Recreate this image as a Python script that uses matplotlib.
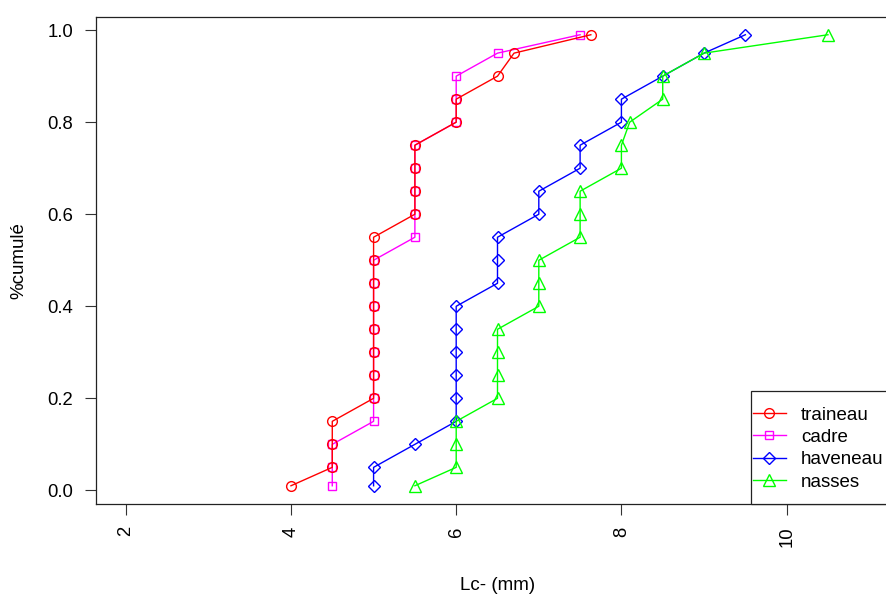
import matplotlib
matplotlib.use("Agg")
import matplotlib.pyplot as plt
from matplotlib.patches import Rectangle

plt.rcParams['font.family'] = ['Liberation Sans', 'DejaVu Sans']

# cumulative proportions (shared by all series)
pct = [0.01, 0.05, 0.10, 0.15, 0.20, 0.25, 0.30, 0.35, 0.40, 0.45, 0.50,
       0.55, 0.60, 0.65, 0.70, 0.75, 0.80, 0.85, 0.90, 0.95, 0.99]

traineau = [4.0, 4.5, 4.5, 4.5, 5.0, 5.0, 5.0, 5.0, 5.0, 5.0, 5.0,
            5.0, 5.5, 5.5, 5.5, 5.5, 6.0, 6.0, 6.5, 6.7, 7.63]
cadre = [4.5, 4.5, 4.5, 5.0, 5.0, 5.0, 5.0, 5.0, 5.0, 5.0, 5.0,
         5.5, 5.5, 5.5, 5.5, 5.5, 6.0, 6.0, 6.0, 6.5, 7.5]
haveneau = [5.0, 5.0, 5.5, 6.0, 6.0, 6.0, 6.0, 6.0, 6.0, 6.5, 6.5,
            6.5, 7.0, 7.0, 7.5, 7.5, 8.0, 8.0, 8.5, 9.0, 9.5]
nasses = [5.5, 6.0, 6.0, 6.0, 6.5, 6.5, 6.5, 6.5, 7.0, 7.0, 7.0,
          7.5, 7.5, 7.5, 8.0, 8.0, 8.1, 8.5, 8.5, 9.0, 10.5]

series_names = ['traineau', 'cadre', 'haveneau', 'nasses']
x_ticks = [2, 4, 6, 8, 10]
y_ticks = [0.0, 0.2, 0.4, 0.6, 0.8, 1.0]
x_label = 'Lc- (mm)'
y_label = '%cumulé'

W, H = 886, 595
fig = plt.figure(figsize=(W / 100, H / 100), dpi=100)
L, R, T, B = 96, 899, 16.7, 503.8
ax = fig.add_axes([L / W, 1 - B / H, (R - L) / W, (B - T) / H])

styles = {
    'traineau': dict(color='#FF0000', marker='o', ms=7.0, z=4),
    'cadre': dict(color='#FF00FF', marker='s', ms=6.0, z=3),
    'haveneau': dict(color='#0000FF', marker='D', ms=5.8, z=5),
    'nasses': dict(color='#00FF00', marker='^', ms=9.0, z=6),
}
data = {'traineau': traineau, 'cadre': cadre, 'haveneau': haveneau, 'nasses': nasses}

handles = []
for name in series_names:
    st = styles[name]
    h, = ax.plot(data[name], pct, color=st['color'], marker=st['marker'],
                 markersize=st['ms'], markerfacecolor='none',
                 markeredgecolor=st['color'], markeredgewidth=1.0,
                 linewidth=1.0, zorder=st['z'], label=name)
    handles.append(h)

ax.set_xlim(1.64, 11.36)
ax.set_ylim(-0.0292, 1.0292)
ax.set_xticks(x_ticks)
ax.set_xticklabels([str(v) for v in x_ticks], rotation=90)
ax.set_yticks(y_ticks)
ax.set_yticklabels([f"{v:.1f}" for v in y_ticks])
ax.tick_params(axis='both', direction='out', length=7.6, width=0.8,
               labelsize=13.3, color='#333333')
ax.tick_params(axis='y', pad=9.0)
ax.tick_params(axis='x', pad=8.6)
for sp in ax.spines.values():
    sp.set_linewidth(0.9)
    sp.set_color('#222222')

ax.set_xlabel(x_label, fontsize=13.5)
ax.xaxis.set_label_coords(0.5, -(585 - B) / (B - T))
ax.xaxis.label.set_va('center')
ax.set_ylabel(y_label, fontsize=13.5)
ax.yaxis.set_label_coords(-(L - 18.5) / (R - L), 0.5)
ax.yaxis.label.set_va('center')

# legend box
lx0, ly0 = 750.5, 391
fig.patches.append(Rectangle((lx0 / W, 1 - B / H), (R - lx0) / W, (B - ly0) / H,
                             transform=fig.transFigure, facecolor='white',
                             edgecolor='#222222', linewidth=0.9, zorder=10))
leg = fig.legend(handles=handles, labels=series_names, loc='center left',
                 bbox_to_anchor=(753 / W, 1 - 448.5 / H),
                 bbox_transform=fig.transFigure, frameon=False,
                 fontsize=13.5, handlelength=1.75, handletextpad=0.8,
                 labelspacing=0.28, borderpad=0.0, borderaxespad=0.0)
leg.set_zorder(11)

fig.savefig('out.png', dpi=100)
